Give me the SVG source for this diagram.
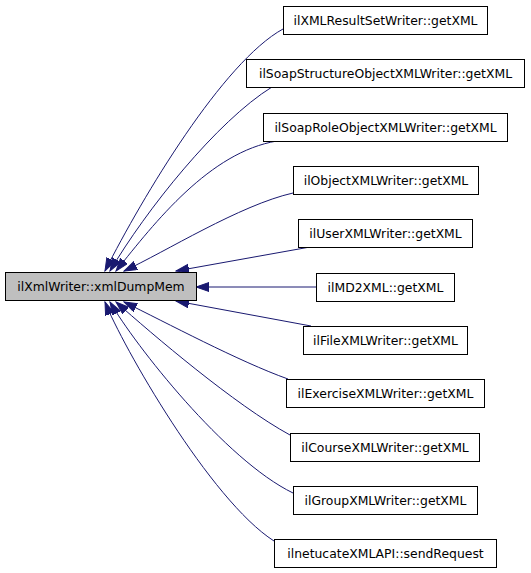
<svg xmlns="http://www.w3.org/2000/svg" width="531" height="573" viewBox="0 0 531 573">
<style>
.node rect{fill:#ffffff;stroke:#000000;stroke-width:1}
#main rect{fill:#bfbfbf}
.node text{font-family:"DejaVu Sans",sans-serif;font-size:12.4px;fill:#000000;text-anchor:middle}
.edges path{fill:none;stroke:#191970;stroke-width:1;marker-end:url(#arr)}
</style>
<defs>
<marker id="arr" markerUnits="userSpaceOnUse" markerWidth="14" markerHeight="10" refX="13" refY="4.5" orient="auto">
<path d="M0,0 L13,4.5 L0,9 z" fill="#191970" stroke="#191970" stroke-width="1"/>
</marker>
</defs>
<rect width="531" height="573" fill="#ffffff"/>
<g class="edges">
<path d="M283,29 C223,62 143,196 105,271"/>
<path d="M272,87 C217,121 146,210 110,271"/>
<path d="M277,141 C210,152 155,222 116,271"/>
<path d="M293,193 C240,205 165,252 124,271"/>
<path d="M310,247 L176,271"/>
<path d="M316,287 L196,287"/>
<path d="M311,326 L176,301"/>
<path d="M288,379 C240,362 165,322 124,302"/>
<path d="M290,435 C235,405 152,334 116,302"/>
<path d="M293,493 C225,460 135,345 110,302"/>
<path d="M274,541 C210,500 122,345 105,302"/>
</g>
<g id="main" class="node"><rect x="5.5" y="272.5" width="191" height="28"/><text x="101" y="291">ilXmlWriter::xmlDumpMem</text></g>
<g id="n1" class="node"><rect x="283.5" y="6.5" width="204" height="28"/><text x="385.5" y="25">ilXMLResultSetWriter::getXML</text></g>
<g id="n2" class="node"><rect x="246.5" y="59.5" width="278" height="28"/><text x="385.5" y="78">ilSoapStructureObjectXMLWriter::getXML</text></g>
<g id="n3" class="node"><rect x="263.5" y="113.5" width="244" height="28"/><text x="385.5" y="132">ilSoapRoleObjectXMLWriter::getXML</text></g>
<g id="n4" class="node"><rect x="293.5" y="166.5" width="185" height="28"/><text x="386" y="185">ilObjectXMLWriter::getXML</text></g>
<g id="n5" class="node"><rect x="298.5" y="219.5" width="174" height="28"/><text x="385.5" y="238">ilUserXMLWriter::getXML</text></g>
<g id="n6" class="node"><rect x="316.5" y="273.5" width="138" height="28"/><text x="385.5" y="292">ilMD2XML::getXML</text></g>
<g id="n7" class="node"><rect x="303.5" y="326.5" width="164" height="28"/><text x="385.5" y="345">ilFileXMLWriter::getXML</text></g>
<g id="n8" class="node"><rect x="286.5" y="379.5" width="198" height="28"/><text x="385.5" y="398">ilExerciseXMLWriter::getXML</text></g>
<g id="n9" class="node"><rect x="290.5" y="433.5" width="189" height="28"/><text x="385" y="452">ilCourseXMLWriter::getXML</text></g>
<g id="n10" class="node"><rect x="293.5" y="486.5" width="184" height="28"/><text x="385.5" y="505">ilGroupXMLWriter::getXML</text></g>
<g id="n11" class="node"><rect x="274.5" y="539.5" width="222" height="28"/><text x="385.5" y="558">ilnetucateXMLAPI::sendRequest</text></g>
</svg>
